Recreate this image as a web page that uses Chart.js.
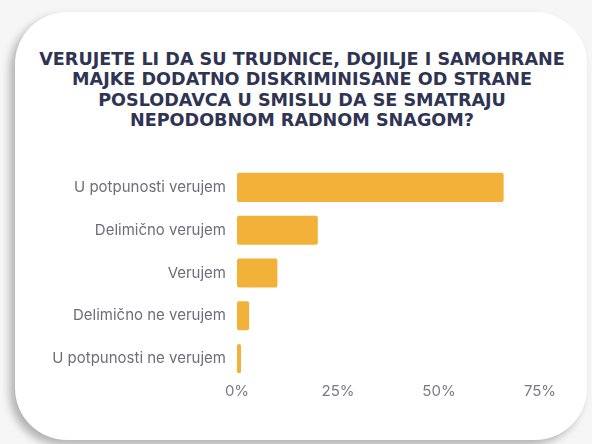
<!DOCTYPE html>
<html>
<head>
<meta charset="utf-8">
<script src="https://cdn.jsdelivr.net/npm/chart.js@4"></script>
<style>
  html, body { margin: 0; padding: 0; background: #f6f6f6; }
  #wrap { position: relative; width: 592px; height: 444px; overflow: hidden; }
  #card {
    position: absolute; left: 15px; top: 12px; width: 572px; height: 428px;
    background: #ffffff; border-radius: 52px;
    box-shadow: -5px 5px 9px rgba(0, 0, 0, 0.28);
  }
  #naslov {
    position: absolute; left: 2px; width: 600px; top: 49px;
    text-align: center; color: #2f3452;
    font: bold 17.6px/20.3px "DejaVu Sans", sans-serif;
  }
  #box { position: absolute; left: 0; top: 0; width: 592px; height: 444px; }
</style>
</head>
<body>
<div id="wrap">
  <div id="card"></div>
  <div id="naslov"></div>
  <div id="box"><canvas id="anketa"></canvas></div>
</div>
<script>
// odgovori i procenti
const odgovori = [
  "U potpunosti verujem",
  "Delimično verujem",
  "Verujem",
  "Delimično ne verujem",
  "U potpunosti ne verujem",
];
const procenti = [66, 20, 10, 3, 1];
const tickovi = [0, 25, 50, 75];

const naslov = [
  "VERUJETE LI DA SU TRUDNICE, DOJILJE I SAMOHRANE",
  "MAJKE DODATNO DISKRIMINISANE OD STRANE",
  "POSLODAVCA U SMISLU DA SE SMATRAJU",
  "NEPODOBNOM RADNOM SNAGOM?",
];
document.getElementById("naslov").innerHTML = naslov.join("<br>");

const config = {
  type: "bar",
  data: {
    labels: odgovori,
    datasets: [
      {
        data: procenti,
        backgroundColor: "#f2b23a",
        borderRadius: 2,
        borderSkipped: false,
        barPercentage: 0.85,
        categoryPercentage: 0.8,
      },
    ],
  },
  options: {
    indexAxis: "y",
    responsive: true,
    maintainAspectRatio: false,
    animation: false,
    layout: { padding: { top: 166, left: 0, right: 52, bottom: 42 } },
    plugins: {
      legend: { display: false },
      tooltip: { enabled: false },
    },
    scales: {
      x: {
        min: 0,
        max: 75,
        afterBuildTicks: (scale) => {
          scale.ticks = tickovi.map((v) => ({ value: v }));
        },
        grid: { display: false, drawTicks: false },
        border: { display: false },
        ticks: {
          color: "#7a7a86",
          padding: 2,
          font: { family: "Inter", size: 15 },
          callback: (v) => v + "%",
        },
      },
      y: {
        afterFit: (scale) => {
          scale.width = 237;
        },
        grid: { display: false, drawTicks: false },
        border: { display: false },
        ticks: {
          color: "#6e6e7a",
          padding: 11,
          font: { family: "Inter", size: 15 },
        },
      },
    },
  },
};

new Chart(document.getElementById("anketa"), config);
</script>
</body>
</html>
